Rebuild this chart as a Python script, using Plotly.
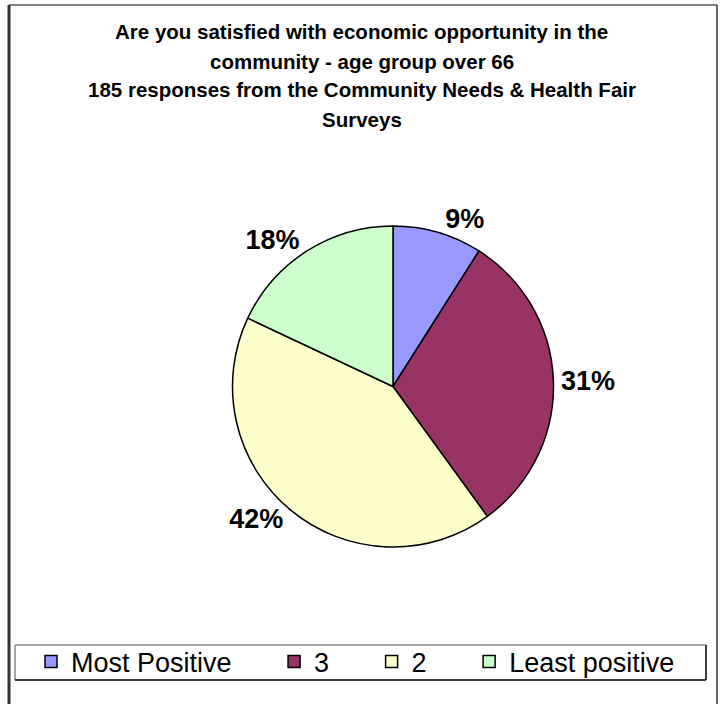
import plotly.graph_objects as go

# Survey responses, age group over 66 (percent of 185 responses)
categories = ["Most Positive", "3", "2", "Least positive"]
shares = [9, 31, 42, 18]
colors = ["#9999FF", "#993366", "#FFFFCC", "#CCFFCC"]

title_lines = [
    "Are you satisfied with economic opportunity in the",
    "community - age group over 66",
    "185 responses from the Community Needs & Health Fair",
    "Surveys",
]

W, H = 723, 704
FONT = "Liberation Sans, Arial, sans-serif"


def px_x(x):
    return x / W


def px_y(y):
    return 1 - y / H


# pie geometry (pixels)
cx, cy, r = 393, 386.5, 160.5

# non-breaking spaces widen the gap between legend entries
NBSP = "\u00a0"
legend_names = [c + NBSP * 5 if i < len(categories) - 1 else c for i, c in enumerate(categories)]

fig = go.Figure(
    go.Pie(
        labels=legend_names,
        values=shares,
        sort=False,
        direction="clockwise",
        rotation=0,
        marker=dict(colors=colors, line=dict(color="black", width=1.5)),
        texttemplate="%{value}%",
        textposition="outside",
        textfont=dict(family=FONT, size=27, color="black", weight="bold"),
        domain=dict(x=[px_x(cx - r), px_x(cx + r)], y=[px_y(cy + r), px_y(cy - r)]),
        hoverinfo="percent",
    )
)

shapes = [
    # outer frame
    dict(type="line", x0=px_x(9), x1=px_x(717), y0=px_y(5), y1=px_y(5), line=dict(color="black", width=1.2)),
    dict(type="line", x0=px_x(717), x1=px_x(717), y0=px_y(5), y1=-0.02, line=dict(color="black", width=1.2)),
    dict(type="line", x0=px_x(9), x1=px_x(9), y0=px_y(5), y1=-0.02, line=dict(color="#333333", width=3)),
    # legend frame
    dict(type="line", x0=px_x(15), x1=px_x(706), y0=px_y(645), y1=px_y(645), line=dict(color="#888888", width=1.5)),
    dict(type="line", x0=px_x(15), x1=px_x(15), y0=px_y(645), y1=px_y(680), line=dict(color="#888888", width=1.5)),
    dict(type="line", x0=px_x(15), x1=px_x(706), y0=px_y(680), y1=px_y(680), line=dict(color="black", width=1.5)),
    dict(type="line", x0=px_x(706), x1=px_x(706), y0=px_y(645), y1=px_y(680), line=dict(color="black", width=1.5)),
]

# title, one annotation per line
title_centers = [32, 61, 90, 119]
annotations = [
    dict(
        text=line,
        x=0.5,
        xref="paper",
        xanchor="center",
        y=px_y(yc),
        yref="paper",
        yanchor="middle",
        showarrow=False,
        font=dict(family=FONT, size=20.5, color="black", weight="bold"),
    )
    for line, yc in zip(title_lines, title_centers)
]

fig.update_layout(
    width=W,
    height=H,
    margin=dict(l=0, r=0, t=0, b=0),
    paper_bgcolor="white",
    plot_bgcolor="white",
    showlegend=True,
    legend=dict(
        orientation="h",
        x=px_x(31),
        xanchor="left",
        y=px_y(662),
        yanchor="middle",
        bgcolor="rgba(0,0,0,0)",
        borderwidth=0,
        font=dict(family=FONT, size=27, color="black"),
        traceorder="normal",
    ),
    shapes=shapes,
    annotations=annotations,
)

fig.write_html("out.html")
